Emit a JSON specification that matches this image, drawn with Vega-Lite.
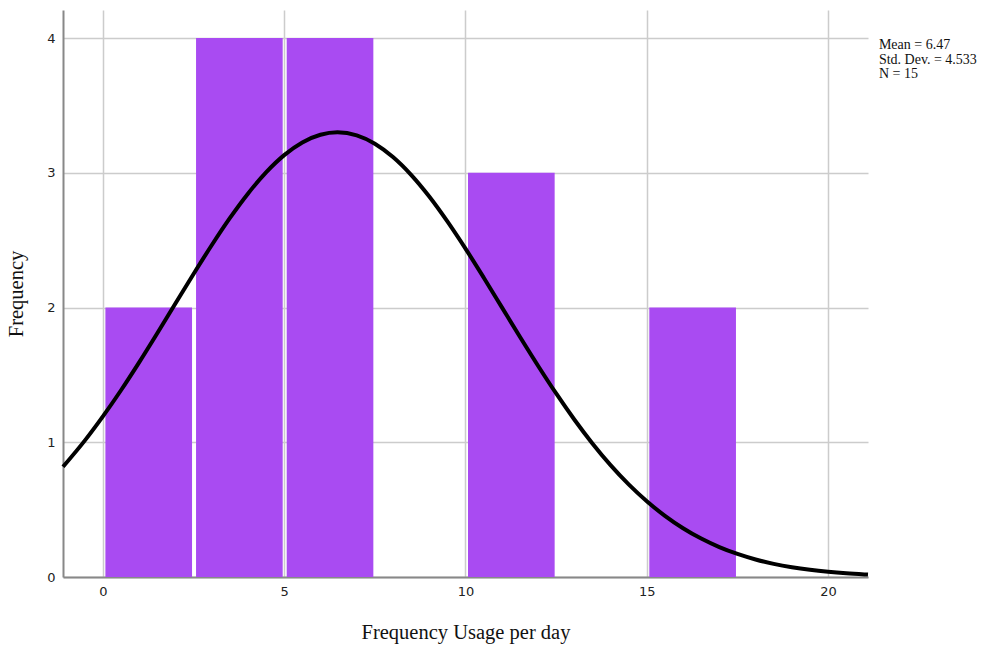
{
  "$schema": "https://vega.github.io/schema/vega-lite/v6.json",
  "width": 805,
  "height": 567,
  "autosize": {"type": "none"},
  "padding": {"left": 63, "top": 10, "right": 129, "bottom": 69},
  "background": "white",
  "config": {
    "view": {"stroke": null},
    "axis": {
      "gridColor": "#cccccc",
      "gridWidth": 1.5,
      "domainColor": "#888888",
      "domainWidth": 2,
      "ticks": false,
      "labelFont": "DejaVu Sans",
      "labelFontSize": 13,
      "labelColor": "#222222",
      "titleFont": "Liberation Serif",
      "titleFontSize": 20.5,
      "titleFontWeight": "normal",
      "titleColor": "#111111"
    }
  },
  "datasets": {
    "bins": [
      {"start": 0, "end": 2.5, "count": 2},
      {"start": 2.5, "end": 5, "count": 4},
      {"start": 5, "end": 7.5, "count": 4},
      {"start": 10, "end": 12.5, "count": 3},
      {"start": 15, "end": 17.5, "count": 2}
    ],
    "curve": [
      {"x": -1.1, "y": 0.818}, {"x": -0.5, "y": 1.012}, {"x": 0, "y": 1.192}, {"x": 0.5, "y": 1.386},
      {"x": 1, "y": 1.593}, {"x": 1.5, "y": 1.809}, {"x": 2, "y": 2.030}, {"x": 2.5, "y": 2.249},
      {"x": 3, "y": 2.462}, {"x": 3.5, "y": 2.663}, {"x": 4, "y": 2.845}, {"x": 4.5, "y": 3.003},
      {"x": 5, "y": 3.131}, {"x": 5.5, "y": 3.225}, {"x": 6, "y": 3.282}, {"x": 6.47, "y": 3.300},
      {"x": 7, "y": 3.278}, {"x": 7.5, "y": 3.216}, {"x": 8, "y": 3.117}, {"x": 8.5, "y": 2.985},
      {"x": 9, "y": 2.824}, {"x": 9.5, "y": 2.639}, {"x": 10, "y": 2.437}, {"x": 10.5, "y": 2.223},
      {"x": 11, "y": 2.003}, {"x": 11.5, "y": 1.783}, {"x": 12, "y": 1.568}, {"x": 12.5, "y": 1.362},
      {"x": 13, "y": 1.169}, {"x": 13.5, "y": 0.991}, {"x": 14, "y": 0.830}, {"x": 14.5, "y": 0.687},
      {"x": 15, "y": 0.562}, {"x": 15.5, "y": 0.454}, {"x": 16, "y": 0.362}, {"x": 16.5, "y": 0.285},
      {"x": 17, "y": 0.222}, {"x": 17.5, "y": 0.171}, {"x": 18, "y": 0.130}, {"x": 18.5, "y": 0.0977},
      {"x": 19, "y": 0.0724}, {"x": 19.5, "y": 0.0530}, {"x": 20, "y": 0.0384}, {"x": 20.5, "y": 0.0274},
      {"x": 21, "y": 0.0194}, {"x": 21.1, "y": 0.0180}
    ]
  },
  "layer": [
    {
      "data": {"name": "bins"},
      "mark": {"type": "bar", "color": "#a94bf2", "binSpacing": 4},
      "encoding": {
        "x": {
          "field": "start", "type": "quantitative", "bin": "binned",
          "scale": {"domain": [-1.1, 21.1], "nice": false, "zero": false},
          "axis": {"values": [0, 5, 10, 15, 20], "grid": true, "title": "Frequency Usage per day", "titlePadding": 24, "labelPadding": 8, "format": "d"}
        },
        "x2": {"field": "end"},
        "y": {
          "field": "count", "type": "quantitative",
          "scale": {"domain": [0, 4.208], "nice": false},
          "axis": {"values": [0, 1, 2, 3, 4], "grid": true, "title": "Frequency", "titlePadding": 20, "labelPadding": 8, "format": "d"}
        }
      }
    },
    {
      "data": {"name": "curve"},
      "mark": {"type": "line", "color": "black", "strokeWidth": 4, "interpolate": "monotone"},
      "encoding": {
        "x": {"field": "x", "type": "quantitative"},
        "y": {"field": "y", "type": "quantitative"}
      }
    },
    {
      "data": {"values": [{"t": ["Mean = 6.47", "Std. Dev. = 4.533", "N = 15"]}]},
      "mark": {"type": "text", "align": "left", "baseline": "top", "font": "Liberation Serif", "fontSize": 14, "lineHeight": 14.5, "clip": false, "color": "#111111"},
      "encoding": {
        "x": {"datum": 21.4},
        "y": {"datum": 4.0},
        "text": {"field": "t"}
      }
    }
  ]
}
